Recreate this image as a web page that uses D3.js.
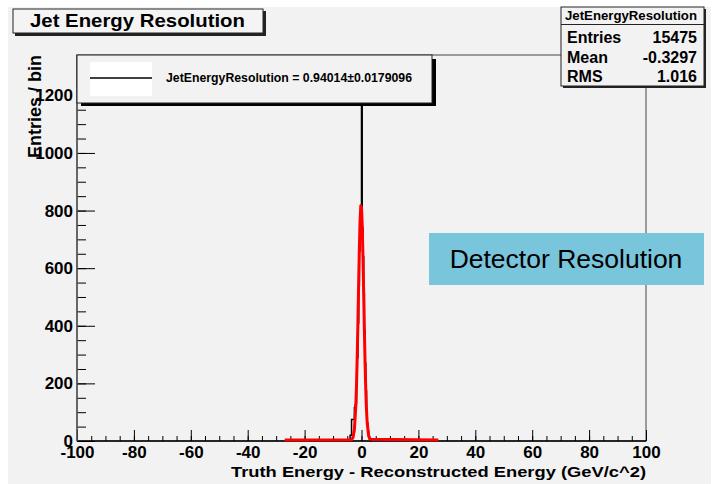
<!DOCTYPE html>
<html lang="en">
<head>
<meta charset="UTF-8">
<title>Jet Energy Resolution</title>
<script src="https://cdnjs.cloudflare.com/ajax/libs/d3/7.8.5/d3.min.js"></script>
<style>
  body { margin: 0; background: #fff; }
  svg text { font-family: "Liberation Sans", Arial, sans-serif; }
</style>
</head>
<body>
<script>
// black histogram: low edge of each bin (width 0.25) and its content
var binWidth = 0.25;
var binLow = [-4, -3.75, -3.5, -3.25, -3, -2.75, -2.5, -2.25, -2, -1.75, -1.5, -1.25, -1, -0.75, -0.5, -0.25,
              0, 0.25, 0.5, 0.75, 1, 1.25, 1.5, 1.75, 2, 2.25, 2.5, 2.75, 3, 3.25];
var binCount = [20, 20, 75, 75, 75, 75, 115, 125, 130, 190, 290, 410, 540, 660, 760, 800,
                1900, 740, 640, 510, 385, 270, 175, 105, 60, 35, 15, 8, 3, 0];

// red gaussian fit
var fitX = [-27, -3.5, -3.0, -2.5, -2.0, -1.75, -1.5, -1.25, -1.0, -0.75, -0.5, -0.25, 0, 0.25, 0.5, 0.75,
            1.0, 1.25, 1.5, 1.75, 2.0, 2.5, 3.0, 27];
var fitY = [0, 1, 8, 36, 118, 192, 292, 412, 543, 667, 763, 813, 808, 747, 644, 517,
            387, 270, 175, 106, 60, 15, 3, 0];

var xTickLabels = [-100, -80, -60, -40, -20, 0, 20, 40, 60, 80, 100];
var yTickLabels = [0, 200, 400, 600, 800, 1000, 1200];
var statsRows = [["Entries", "15475"], ["Mean", "-0.3297"], ["RMS", "1.016"]];
var legendLabel = "JetEnergyResolution = 0.94014\u00b10.0179096";

var W = 717, H = 484;
var fx0 = 77, fx1 = 646, fy0 = 55, fy1 = 441;

var svg = d3.select("body").append("svg")
    .attr("width", W).attr("height", H);

// pad background
svg.append("rect").attr("x", 8).attr("y", 7).attr("width", 703).attr("height", H - 7)
    .attr("fill", "#f2f2f2");

var xScale = d3.scaleLinear().domain([-100, 100]).range([fx0, fx1]);
var yScale = d3.scaleLinear().domain([0, 1340]).range([fy1, fy0]);
var plain = function(d) { return String(d); };

// frame
svg.append("rect").attr("x", fx0).attr("y", fy0).attr("width", fx1 - fx0).attr("height", fy1 - fy0)
    .attr("fill", "none").attr("stroke", "#444").attr("stroke-width", 1);

svg.append("clipPath").attr("id", "frameClip").append("rect")
    .attr("x", fx0).attr("y", fy0).attr("width", fx1 - fx0).attr("height", fy1 - fy0 + 3);

// x axis: minor then major ticks pointing up
svg.append("g").attr("transform", "translate(0," + fy1 + ")")
    .call(d3.axisBottom(xScale).tickValues(d3.range(-100, 101, 5)).tickSize(-5).tickFormat(""))
    .call(function(g) { g.select(".domain").remove(); });
var xAxis = svg.append("g").attr("transform", "translate(0," + fy1 + ")")
    .call(d3.axisBottom(xScale).tickValues(xTickLabels).tickSize(-11).tickPadding(5).tickFormat(plain))
    .call(function(g) { g.select(".domain").remove(); });
xAxis.selectAll("text").style("font-size", "17px").style("font-weight", "bold").attr("fill", "#000");
svg.append("line").attr("x1", fx0).attr("x2", fx1).attr("y1", fy1).attr("y2", fy1)
    .attr("stroke", "#000").attr("stroke-width", 1.5);

// y axis
svg.append("g").attr("transform", "translate(" + fx0 + ",0)")
    .call(d3.axisLeft(yScale).tickValues(d3.range(0, 1301, 50)).tickSize(-9).tickFormat(""))
    .call(function(g) { g.select(".domain").remove(); });
var yAxis = svg.append("g").attr("transform", "translate(" + fx0 + ",0)")
    .call(d3.axisLeft(yScale).tickValues(yTickLabels).tickSize(-18).tickPadding(4).tickFormat(plain))
    .call(function(g) { g.select(".domain").remove(); });
yAxis.selectAll("text").style("font-size", "17px").style("font-weight", "bold").attr("fill", "#000");
svg.append("line").attr("x1", fx0).attr("x2", fx0).attr("y1", fy0).attr("y2", fy1)
    .attr("stroke", "#555").attr("stroke-width", 1.5);

// histogram outline
var histPts = [[binLow[0], 0]];
binLow.forEach(function(lo, i) {
    histPts.push([lo, binCount[i]]);
    histPts.push([lo + binWidth, binCount[i]]);
});
histPts.push([binLow[binLow.length - 1] + binWidth, 0]);

var plot = svg.append("g").attr("clip-path", "url(#frameClip)");
plot.append("path")
    .datum(histPts)
    .attr("d", d3.line().x(function(d) { return xScale(d[0]); }).y(function(d) { return yScale(d[1]); }))
    .attr("fill", "none").attr("stroke", "#000").attr("stroke-width", 1.5);

// fit curve
plot.append("path")
    .datum(fitX.map(function(x, i) { return [x, fitY[i]]; }))
    .attr("d", d3.line().x(function(d) { return xScale(d[0]); }).y(function(d) { return yScale(d[1]) - 1; }))
    .attr("fill", "none").attr("stroke", "#ff0000").attr("stroke-width", 3).attr("stroke-linejoin", "round");

// axis titles
svg.append("text")
    .attr("transform", "translate(41," + fy0 + ") rotate(-90)")
    .attr("text-anchor", "end")
    .style("font-size", "18px").style("font-weight", "bold")
    .text("Entries / bin");
svg.append("text")
    .attr("x", 231).attr("y", 477)
    .attr("textLength", 415).attr("lengthAdjust", "spacingAndGlyphs")
    .style("font-size", "15px").style("font-weight", "bold")
    .text("Truth Energy - Reconstructed Energy (GeV/c^2)");

// legend box
svg.append("rect").attr("x", 81).attr("y", 59).attr("width", 355).attr("height", 47).attr("fill", "#000");
svg.append("rect").attr("x", 77).attr("y", 55).attr("width", 355).attr("height", 48)
    .attr("fill", "#f2f2f2").attr("stroke", "#222").attr("stroke-width", 1);
svg.append("rect").attr("x", 90).attr("y", 62).attr("width", 62).attr("height", 34).attr("fill", "#fff");
svg.append("line").attr("x1", 90).attr("x2", 152).attr("y1", 78).attr("y2", 78)
    .attr("stroke", "#000").attr("stroke-width", 1.5);
svg.append("text").attr("x", 166).attr("y", 82)
    .attr("textLength", 246).attr("lengthAdjust", "spacingAndGlyphs")
    .style("font-size", "12px").style("font-weight", "bold")
    .text(legendLabel);

// title box
svg.append("rect").attr("x", 15).attr("y", 11).attr("width", 251).attr("height", 25).attr("fill", "#222");
svg.append("rect").attr("x", 13).attr("y", 9).attr("width", 250).attr("height", 24)
    .attr("fill", "#f4f4f4").attr("stroke", "#222").attr("stroke-width", 1);
svg.append("text").attr("x", 30).attr("y", 27)
    .attr("textLength", 215).attr("lengthAdjust", "spacingAndGlyphs")
    .style("font-size", "19px").style("font-weight", "bold")
    .text("Jet Energy Resolution");

// stats box
svg.append("rect").attr("x", 563).attr("y", 9).attr("width", 143).attr("height", 79).attr("fill", "#222");
svg.append("rect").attr("x", 561).attr("y", 7).attr("width", 143).attr("height", 79)
    .attr("fill", "#f2f2f2").attr("stroke", "#222").attr("stroke-width", 1);
svg.append("line").attr("x1", 561).attr("x2", 704).attr("y1", 24.5).attr("y2", 24.5)
    .attr("stroke", "#222").attr("stroke-width", 1);
svg.append("text").attr("x", 565).attr("y", 20)
    .attr("textLength", 132).attr("lengthAdjust", "spacingAndGlyphs")
    .style("font-size", "12px").style("font-weight", "bold")
    .text("JetEnergyResolution");
statsRows.forEach(function(r, i) {
    svg.append("text").attr("x", 567).attr("y", 43 + i * 19.5)
        .style("font-size", "16px").style("font-weight", "bold").text(r[0]);
    svg.append("text").attr("x", 697).attr("y", 43 + i * 19.5).attr("text-anchor", "end")
        .style("font-size", "16px").style("font-weight", "bold").text(r[1]);
});

// annotation box
svg.append("rect").attr("x", 429).attr("y", 233).attr("width", 275).attr("height", 52).attr("fill", "#78c5dc");
svg.append("text").attr("x", 566).attr("y", 268).attr("text-anchor", "middle")
    .style("font-size", "26.5px")
    .text("Detector Resolution");
</script>
</body>
</html>
